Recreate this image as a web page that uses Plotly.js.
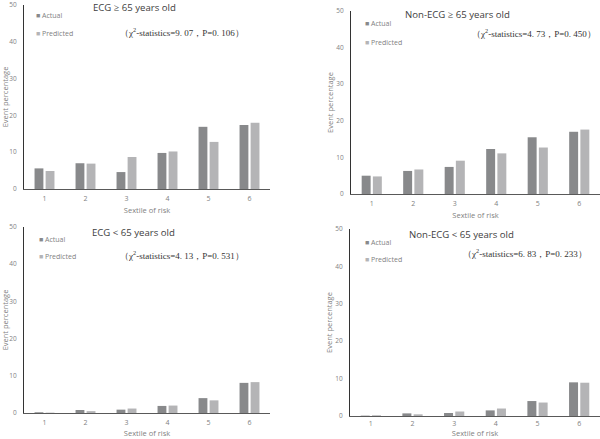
<!DOCTYPE html>
<html><head><meta charset="utf-8">
<script src="https://cdn.plot.ly/plotly-3.0.1.min.js"></script>
<style>html,body{margin:0;padding:0;background:#fff}</style>
</head><body><div id="chart" style="width:600px;height:439px"></div>
<script>
// ---- data ----
const sextiles = ['1', '2', '3', '4', '5', '6'];
const ecgOldActual = [5.6, 7.0, 4.6, 9.8, 16.9, 17.4];
const ecgOldPredicted = [4.9, 6.9, 8.7, 10.2, 12.8, 18.0];
const nonEcgOldActual = [5.0, 6.3, 7.4, 12.3, 15.5, 17.0];
const nonEcgOldPredicted = [4.8, 6.7, 9.1, 11.1, 12.7, 17.6];
const ecgYoungActual = [0.2, 0.8, 0.9, 1.9, 4.0, 8.1];
const ecgYoungPredicted = [0.1, 0.5, 1.2, 2.0, 3.4, 8.3];
const nonEcgYoungActual = [0.1, 0.7, 0.8, 1.5, 4.0, 9.0];
const nonEcgYoungPredicted = [0.2, 0.45, 1.2, 2.0, 3.6, 8.9];
const panelTitles = ['ECG ≥ 65 years old', 'Non-ECG ≥ 65 years old', 'ECG < 65 years old', 'Non-ECG < 65 years old'];
const statTexts = [
  '（χ<sup>2</sup>-statistics=9. 07，P=0. 106）',
  '（χ<sup>2</sup>-statistics=4. 73，P=0. 450）',
  '（χ<sup>2</sup>-statistics=4. 13，P=0. 531）',
  '（χ<sup>2</sup>-statistics=6. 83，P=0. 233）'
];
const yTickVals = [0, 10, 20, 30, 40, 50];
const seriesNames = ['Actual', 'Predicted'];
const xTitle = 'Sextile of risk';
const yTitle = 'Event percentage';

// ---- styles ----
const W = 600, H = 439;
const seriesColors = ['#88898b', '#b4b4b6'];
const panels = [
  {act: ecgOldActual, pred: ecgOldPredicted, x0: 24, x1: 270, yTop: 5, yBot: 189, title: [134, 8], stat: [181.5, 32], leg: [35, 15.3, 33.3], tso: 3, xso: 5},
  {act: nonEcgOldActual, pred: nonEcgOldPredicted, x0: 351, x1: 600, yTop: 11, yBot: 194, title: [457.5, 15], stat: [534, 33], leg: [364, 24, 42.3], tso: 3, xso: 5},
  {act: ecgYoungActual, pred: ecgYoungPredicted, x0: 24, x1: 270, yTop: 227, yBot: 413, title: [133.5, 232], stat: [181.5, 255], leg: [38, 239, 256.7], tso: 3, xso: 4},
  {act: nonEcgYoungActual, pred: nonEcgYoungPredicted, x0: 350, x1: 600, yTop: 229, yBot: 416, title: [461.5, 234], stat: [524.5, 253], leg: [364, 242.3, 259.7], tso: 1, xso: 1}
];

const traces = [];
const layout = {
  width: W, height: H,
  margin: {l: 0, r: 0, t: 0, b: 0},
  paper_bgcolor: '#fff', plot_bgcolor: '#fff',
  barmode: 'group', bargap: 0.46, bargroupgap: 0.2,
  showlegend: false,
  font: {family: 'Open Sans, sans-serif', color: '#7f7f7f', size: 7},
  annotations: []
};

panels.forEach((p, i) => {
  const n = i === 0 ? '' : String(i + 1);
  const xa = 'x' + n, ya = 'y' + n;
  traces.push({type: 'bar', x: sextiles, y: p.act, name: seriesNames[0], xaxis: xa, yaxis: ya,
    marker: {color: seriesColors[0]}, hoverinfo: 'x+y'});
  traces.push({type: 'bar', x: sextiles, y: p.pred, name: seriesNames[1], xaxis: xa, yaxis: ya,
    marker: {color: seriesColors[1]}, hoverinfo: 'x+y'});
  layout['xaxis' + n] = {
    domain: [p.x0 / W, p.x1 / W], anchor: ya, type: 'category',
    showgrid: false, zeroline: false, showline: true, linecolor: '#595959', linewidth: 1,
    ticks: '', tickfont: {size: 7, color: '#7f7f7f'}, ticklabelstandoff: p.tso,
    title: {text: xTitle, font: {size: 7.5, color: '#7f7f7f'}, standoff: p.xso},
    fixedrange: true
  };
  layout['yaxis' + n] = {
    domain: [1 - p.yBot / H, 1 - p.yTop / H], anchor: xa, range: [0, 50],
    tickvals: yTickVals, showgrid: false, zeroline: false, showline: true, linecolor: '#333', linewidth: 1,
    ticks: '', tickfont: {size: 6.5, color: '#7f7f7f'}, ticklabelstandoff: 5, ticklabeloverflow: 'allow',
    title: {text: yTitle, font: {size: 7.5, color: '#7f7f7f'}, standoff: 1},
    fixedrange: true
  };
  // legend entries (coloured square + series name)
  seriesNames.forEach((nm, k) => {
    layout.annotations.push({
      xref: 'paper', yref: 'paper', x: (p.leg[0] - 1) / W, y: 1 - p.leg[1 + k] / H,
      xanchor: 'left', yanchor: 'middle', showarrow: false,
      text: '<span style="color:' + seriesColors[k] + '">■</span> ' + nm,
      font: {family: 'Open Sans, sans-serif', size: 7, color: '#7f7f7f'}
    });
  });
  layout.annotations.push({
    xref: 'paper', yref: 'paper', x: p.title[0] / W, y: 1 - p.title[1] / H,
    xanchor: 'center', yanchor: 'middle', showarrow: false, text: panelTitles[i],
    font: {family: 'Open Sans, sans-serif', size: 9.6, color: '#404040'}
  });
  layout.annotations.push({
    xref: 'paper', yref: 'paper', x: p.stat[0] / W, y: 1 - p.stat[1] / H,
    xanchor: 'center', yanchor: 'middle', showarrow: false, text: statTexts[i],
    font: {family: 'Liberation Serif, serif', size: 9, color: '#333'}
  });
});

Plotly.newPlot('chart', traces, layout, {displayModeBar: false, staticPlot: true});
</script></body></html>
